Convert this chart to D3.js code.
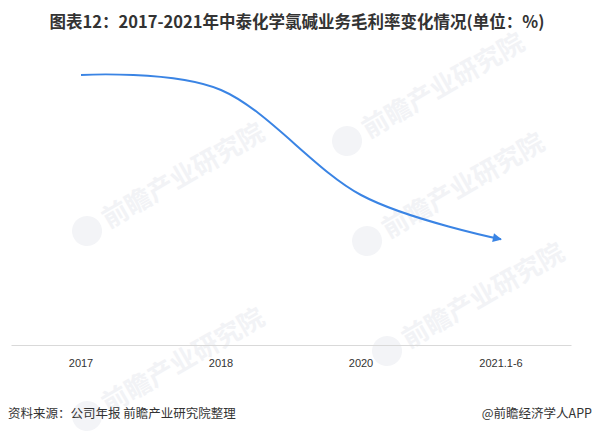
<!DOCTYPE html>
<html><head><meta charset="utf-8">
<script src="https://cdn.jsdelivr.net/npm/d3@7"></script>
<style>
html,body{margin:0;padding:0;background:#fff;}
svg{display:block;}
</style></head>
<body>
<script>
const categories = ["2017","2018","2020","2021.1-6"];
const values = [36.0, 34.0, 20.0, 14.1];
const titleText = "图表12：2017-2021年中泰化学氯碱业务毛利率变化情况(单位：%)";
const sourceText = "资料来源：公司年报 前瞻产业研究院整理";
const brandText = "@前瞻经济学人APP";
const watermarkText = "前瞻产业研究院";

const W = 594, H = 434;
const FONT = "'Noto Sans CJK SC','Microsoft YaHei',sans-serif";
const svg = d3.select("body").append("svg").attr("width", W).attr("height", H);
svg.append("rect").attr("width", W).attr("height", H).attr("fill", "#fff");

// watermarks
const wm = [[410,100],[150,190],[430,200],[450,310],[150,375]];
const wg = svg.append("g");
wm.forEach(([x,y])=>{
  const g = wg.append("g").attr("transform",`translate(${x},${y}) rotate(-30)`);
  g.append("circle").attr("cx",-75).attr("cy",4).attr("r",15).attr("fill","#f3f4f7");
  g.append("text").attr("x",-55).attr("y",13).attr("font-family",FONT).attr("font-weight","bold")
   .attr("font-size",26).attr("fill","#f2f3f6").text(watermarkText);
});

const x = d3.scaleBand().domain(categories).range([11, 571]);
const y = d3.scaleLinear().domain([0, 40]).range([345, 45]);

// title
svg.append("text").attr("x", 297).attr("y", 28).attr("text-anchor","middle")
  .attr("font-family", FONT).attr("font-weight","bold").attr("font-size",16.5)
  .attr("fill","#333").text(titleText);

// axis
const ax = svg.append("g").attr("transform","translate(0,345)")
  .call(d3.axisBottom(x).tickSize(0).tickPadding(14));
ax.select(".domain").attr("stroke","#d9d9d9").attr("stroke-width",1);
ax.selectAll("text").attr("font-family","'Liberation Sans',Arial,sans-serif")
  .attr("font-size",11).attr("fill","#333");

// arrow marker
const defs = svg.append("defs");
defs.append("marker").attr("id","arr").attr("markerUnits","userSpaceOnUse")
  .attr("viewBox","0 0 10 10").attr("refX",9).attr("refY",5)
  .attr("markerWidth",11).attr("markerHeight",9).attr("orient","auto")
  .append("path").attr("d","M0,0 L10,5 L0,10 z").attr("fill","#3a84e4");

const line = d3.line()
  .x((d,i)=>x(categories[i]) + x.bandwidth()/2)
  .y(d=>y(d))
  .curve(d3.curveCardinal.tension(0));
svg.append("path").datum(values).attr("d", line)
  .attr("fill","none").attr("stroke","#3a84e4").attr("stroke-width",2)
  .attr("marker-end","url(#arr)");

// footer
svg.append("text").attr("x",8).attr("y",418).attr("font-family",FONT)
  .attr("font-size",12.5).attr("fill","#333").text(sourceText);
svg.append("text").attr("x",592).attr("y",418).attr("text-anchor","end").attr("font-family",FONT)
  .attr("font-size",12.5).attr("fill","#333").text(brandText);
</script>
</body></html>
